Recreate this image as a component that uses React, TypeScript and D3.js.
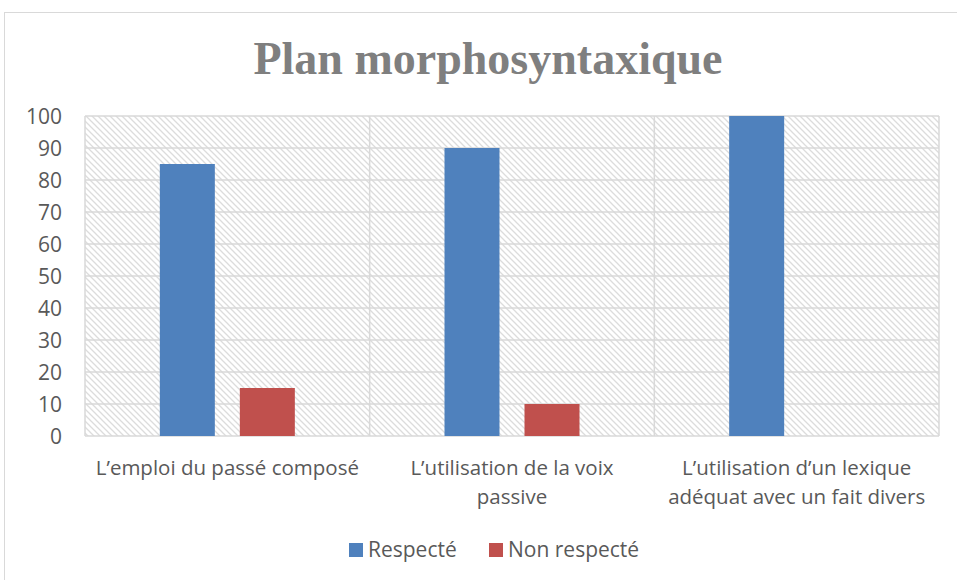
import React from "react";
import * as d3 from "d3";

const categories: string[][] = [
  ["L’emploi du passé composé"],
  ["L’utilisation de la voix", "passive"],
  ["L’utilisation d’un lexique", "adéquat avec un fait divers"],
];
const seriesNames = ["Respecté", "Non respecté"];
const respecte = [85, 90, 100];
const nonRespecte = [15, 10, 0];
const yTicks = [0, 10, 20, 30, 40, 50, 60, 70, 80, 90, 100];
const colors = ["#4f81bd", "#c0504d"];

const W = 957;
const H = 580;
const plot = { left: 85, right: 939, top: 116, bottom: 436 };
const labelFont = "'Open Sans', sans-serif";
const textColor = "#595959";

export default function App() {
  const x = d3
    .scaleBand<number>()
    .domain(categories.map((_, i) => i))
    .range([plot.left, plot.right])
    .paddingInner(0)
    .paddingOuter(0);
  const y = d3.scaleLinear().domain([0, 100]).range([plot.bottom, plot.top]);
  const barW = 55;
  const barOffset = 40;
  const series = [respecte, nonRespecte];

  return (
    <svg
      width={W}
      height={H}
      style={{ position: "absolute", left: 0, top: 0, background: "#fff" }}
    >
      <defs>
        <pattern id="hatch" patternUnits="userSpaceOnUse" width={6} height={6}>
          <rect width={6} height={6} fill="#ffffff" />
          <path
            d="M-1,-1 L7,7 M-1,5 L1,7 M5,-1 L7,1"
            stroke="#dcdcdc"
            strokeWidth={1.3}
          />
        </pattern>
      </defs>
      <rect
        x={4.5}
        y={12.5}
        width={W}
        height={H}
        fill="#fff"
        stroke="#d9d9d9"
        strokeWidth={1}
      />
      <text
        x={488}
        y={74}
        textAnchor="middle"
        fontFamily="'Liberation Serif', 'DejaVu Serif', serif"
        fontWeight="bold"
        fontSize={46}
        fill="#7f7f7f"
      >
        Plan morphosyntaxique
      </text>
      <rect
        x={plot.left}
        y={plot.top}
        width={plot.right - plot.left}
        height={plot.bottom - plot.top}
        fill="url(#hatch)"
      />
      {yTicks.map((t) => (
        <line
          key={"g" + t}
          x1={plot.left}
          x2={plot.right}
          y1={y(t)}
          y2={y(t)}
          stroke="#d9d9d9"
          strokeWidth={1.5}
        />
      ))}
      {[0, 1, 2, 3].map((i) => {
        const xx = i < 3 ? (x(i) as number) : plot.right;
        return (
          <line
            key={"v" + i}
            x1={xx}
            x2={xx}
            y1={plot.top}
            y2={plot.bottom}
            stroke="#d9d9d9"
            strokeWidth={1.5}
          />
        );
      })}
      {series.map((vals, s) =>
        vals.map((v, i) => {
          const cx =
            (x(i) as number) + x.bandwidth() / 2 + (s === 0 ? -barOffset : barOffset);
          if (v <= 0) return null;
          return (
            <rect
              key={`b${s}-${i}`}
              x={cx - barW / 2}
              y={y(v)}
              width={barW}
              height={y(0) - y(v)}
              fill={colors[s]}
            />
          );
        })
      )}
      {yTicks.map((t) => (
        <text
          key={"y" + t}
          x={62}
          y={y(t)}
          dy="0.36em"
          textAnchor="end"
          fontFamily={labelFont}
          fontSize={21}
          fill={textColor}
        >
          {t}
        </text>
      ))}
      {categories.map((lines, i) => (
        <text
          key={"c" + i}
          x={(x(i) as number) + x.bandwidth() / 2}
          y={475}
          textAnchor="middle"
          fontFamily={labelFont}
          fontSize={20.5}
          fill={textColor}
        >
          {lines.map((l, j) => (
            <tspan key={j} x={(x(i) as number) + x.bandwidth() / 2} dy={j === 0 ? 0 : 29}>
              {l}
            </tspan>
          ))}
        </text>
      ))}
      {seriesNames.map((n, s) => {
        const lx = s === 0 ? 349 : 489;
        return (
          <g key={"l" + s}>
            <rect x={lx} y={543} width={14} height={14} fill={colors[s]} />
            <text
              x={lx + 19}
              y={557}
              fontFamily={labelFont}
              fontSize={21}
              fill={textColor}
            >
              {n}
            </text>
          </g>
        );
      })}
    </svg>
  );
}
